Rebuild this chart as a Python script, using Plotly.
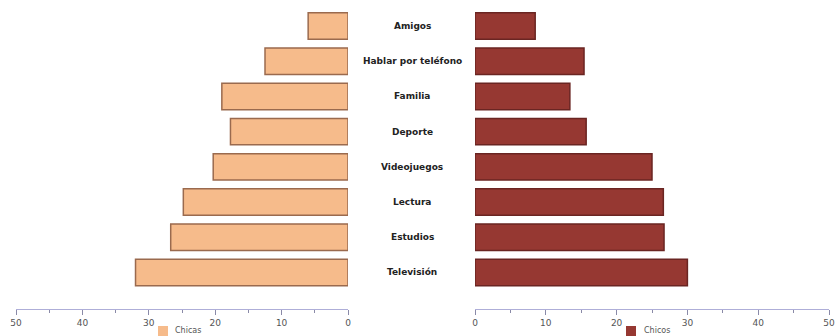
import plotly.graph_objects as go

# Activities, top to bottom
categories = ["Amigos", "Hablar por teléfono", "Familia", "Deporte",
              "Videojuegos", "Lectura", "Estudios", "Televisión"]
# Percentages per group
chicas = [6, 12.5, 19, 17.7, 20.3, 24.8, 26.7, 32]
chicos = [8.5, 15.4, 13.4, 15.7, 25, 26.6, 26.7, 30]
tick_vals = [0, 10, 20, 30, 40, 50]
series_names = ["Chicas", "Chicos"]
fill_colors = ["#f6bb8b", "#963832"]
edge_colors = ["#9a6a4e", "#6a2522"]

W, H = 836, 336


def py(px):
    """Convert a pixel row (from top) into paper units."""
    return (H - px) / H


fig = go.Figure()
fig.add_trace(go.Bar(
    y=categories, x=chicas, orientation="h", name=series_names[0],
    xaxis="x", yaxis="y", width=0.75,
    marker=dict(color=fill_colors[0], line=dict(color=edge_colors[0], width=1.5)),
))
fig.add_trace(go.Bar(
    y=categories, x=chicos, orientation="h", name=series_names[1],
    xaxis="x2", yaxis="y", width=0.75,
    marker=dict(color=fill_colors[1], line=dict(color=edge_colors[1], width=1.5)),
))

axis_common = dict(
    tickvals=tick_vals, ticks="outside", ticklen=5, tickwidth=1,
    tickcolor="#8a8aa8", showline=True, linecolor="#aeaed8", linewidth=1.2,
    showgrid=False, zeroline=False, anchor="free", position=py(309),
    tickfont=dict(family="DejaVu Sans", size=9, color="#555555"),
    minor=dict(dtick=5, ticks="outside", ticklen=3, tickcolor="#8a8aa8"),
    fixedrange=True, automargin=False,
)

# Category labels in the gap between the two halves
annotations = [
    dict(x=412 / W, xref="paper", y=c, yref="y", text="<b>%s</b>" % c,
         showarrow=False, xanchor="center", yanchor="middle",
         font=dict(family="DejaVu Sans", size=9, color="#222222"))
    for c in categories
]

# Legend keys under each axis
shapes = []
legend_pos = [(158, 174), (626, 643)]
for (sx, tx), name, fc, ec in zip(legend_pos, series_names, fill_colors, edge_colors):
    shapes.append(dict(type="rect", xref="paper", yref="paper",
                       x0=sx / W, x1=(sx + 10) / W, y0=py(337), y1=py(326),
                       fillcolor=fc, line=dict(color=fc, width=0)))
    annotations.append(dict(x=tx / W, xref="paper", y=py(335.5), yref="paper",
                            text=name, showarrow=False, xanchor="left",
                            yanchor="bottom", borderpad=0,
                            font=dict(family="DejaVu Sans", size=8,
                                      color="#555555")))

fig.update_layout(
    width=W, height=H, margin=dict(l=0, r=0, t=0, b=0, autoexpand=False),
    paper_bgcolor="white", plot_bgcolor="white",
    xaxis=dict(domain=[16 / W, 348 / W], range=[50, 0], **axis_common),
    xaxis2=dict(domain=[475 / W, 829 / W], range=[0, 50], **axis_common),
    yaxis=dict(domain=[py(290.1), py(8.4)], visible=False,
               categoryorder="array", categoryarray=categories,
               autorange="reversed", fixedrange=True),
    annotations=annotations,
    shapes=shapes,
    showlegend=False,
    bargap=0.25,
)

fig.write_html("out.html")
